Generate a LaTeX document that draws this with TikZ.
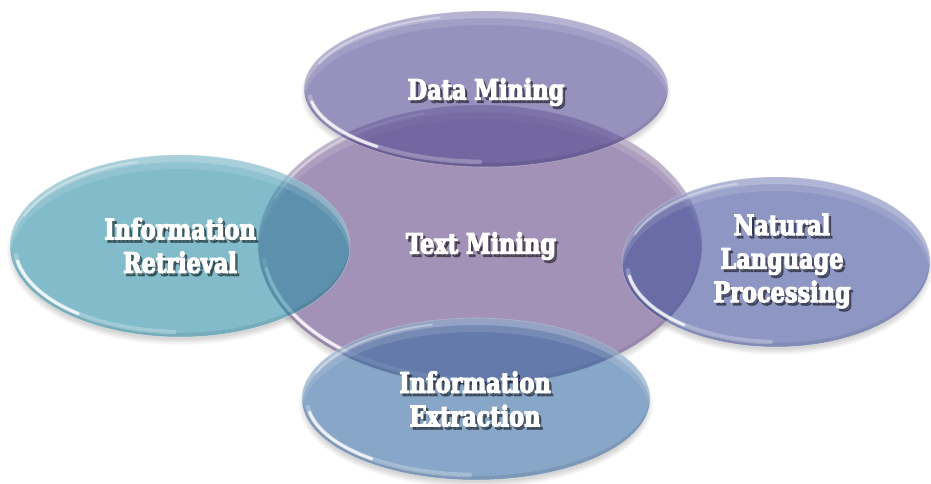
\documentclass[tikz,border=0pt]{standalone}
\usepackage{fontspec}
\newfontfamily\labelfont[FakeStretch=0.8,FakeBold=4]{DejaVu Serif}

\definecolor{coremauve}{HTML}{A392B7}
\definecolor{minepurple}{HTML}{534993}
\definecolor{retrteal}{HTML}{2F8FA7}
\definecolor{nlpblue}{HTML}{43539D}
\definecolor{extrblue}{HTML}{3A6BA2}

\tikzset{
  lbl/.style={font=\labelfont\bfseries\fontsize{28}{33.5}\selectfont,
              align=center, text=white, inner sep=0pt},
  lblshade/.style={lbl, text=black, text opacity=#1},
  shine/.style={white, line cap=round},
}

% arc along an ellipse centred at (#1,#2) with radii #3,#4 from angle #5 to #6
\newcommand\ovalarc[7]{%
  \pgfmathsetmacro\arcsx{#1+#3*cos(#5)}%
  \pgfmathsetmacro\arcsy{#2+#4*sin(#5)}%
  \draw[#7] (\arcsx,\arcsy) arc[start angle=#5, end angle=#6, x radius=#3pt, y radius=#4pt];
}

% soft drop shadow below an oval
\newcommand\ovalshadow[4]{%
  \foreach \k in {0,...,6}{%
    \pgfmathsetmacro\shx{#3+\k-3}%
    \pgfmathsetmacro\shy{#4+\k-3}%
    \fill[black, fill opacity=.022] (#1,#2-5) ellipse [x radius=\shx pt, y radius=\shy pt];
  }%
}

% white underlay so the shadows do not tint the translucent ovals
\newcommand\ovalbase[4]{%
  \fill[white] (#1,#2) ellipse [x radius=#3pt, y radius=#4pt];
}

% glassy oval: centre, radii, colour, fill opacity
\newcommand\glassoval[6]{%
  \fill[#5, fill opacity=#6] (#1,#2) ellipse [x radius=#3pt, y radius=#4pt];
  \begin{scope}
    \clip (#1,#2) ellipse [x radius=#3pt, y radius=#4pt];
    % light bevel along the top
    \fill[white, fill opacity=.22, even odd rule]
      (#1,#2) ellipse [x radius=#3pt, y radius=#4pt]
      (#1,#2-7) ellipse [x radius=#3pt, y radius=#4pt];
    \fill[white, fill opacity=.12, even odd rule]
      (#1,#2) ellipse [x radius=#3pt, y radius=#4pt]
      (#1,#2-14) ellipse [x radius=#3pt, y radius=#4pt];
    % darker rim along the bottom
    \fill[black, fill opacity=.08, even odd rule]
      (#1,#2) ellipse [x radius=#3pt, y radius=#4pt]
      (#1,#2+4) ellipse [x radius=#3pt, y radius=#4pt];
  \end{scope}
  \pgfmathsetmacro\ina{#3-5}\pgfmathsetmacro\inb{#4-5}%
  \ovalarc{#1}{#2}{\ina}{\inb}{186}{268}{shine, line width=4.5pt, opacity=.25}
  \ovalarc{#1}{#2}{\ina}{\inb}{190}{232}{shine, line width=3pt, opacity=.8}
  \pgfmathsetmacro\ina{#3-4}\pgfmathsetmacro\inb{#4-4}%
  \ovalarc{#1}{#2}{\ina}{\inb}{105}{160}{shine, line width=2pt, opacity=.35}
  \draw[white, opacity=.3, line width=.6pt] (#1,#2) ellipse [x radius=#3pt, y radius=#4pt];
}

% white label with a soft dark shadow
\newcommand\glosslabel[3]{%
  \node[lblshade=.4, xshift=2.5pt, yshift=-3pt] at (#2) {#3};
  \node[lbl] (#1) at (#2) {#3};
}

\begin{document}
\begin{tikzpicture}[x=1pt, y=1pt]
  \fill[white] (0,0) rectangle (931,483);
  \useasboundingbox (0,0) rectangle (931,483);

  % shadows
  \ovalshadow{486}{394}{182}{78}
  \ovalshadow{180}{237}{170}{91}
  \ovalshadow{776}{221}{154}{85}
  \ovalshadow{476}{84}{174}{81}
  \ovalshadow{480}{238}{222}{140}
  \ovalbase{486}{394}{182}{78}
  \ovalbase{180}{237}{170}{91}
  \ovalbase{776}{221}{154}{85}
  \ovalbase{476}{84}{174}{81}

  % central oval, then the four around it
  \glassoval{480}{238}{222}{140}{coremauve}{1}
  \glassoval{486}{394}{182}{78}{minepurple}{.6}
  \glassoval{180}{237}{170}{91}{retrteal}{.6}
  \glassoval{776}{221}{154}{85}{nlpblue}{.6}
  \glassoval{476}{84}{174}{81}{extrblue}{.6}

  % labels
  \glosslabel{core}{481,237}{Text Mining}
  \glosslabel{dm}{486,391}{Data Mining}
  \glosslabel{ir}{180,237.5}{Information\\Retrieval}
  \glosslabel{nlp}{782,222}{Natural\\Language\\Processing}
  \glosslabel{ie}{475,84}{Information\\Extraction}
\end{tikzpicture}
\end{document}
